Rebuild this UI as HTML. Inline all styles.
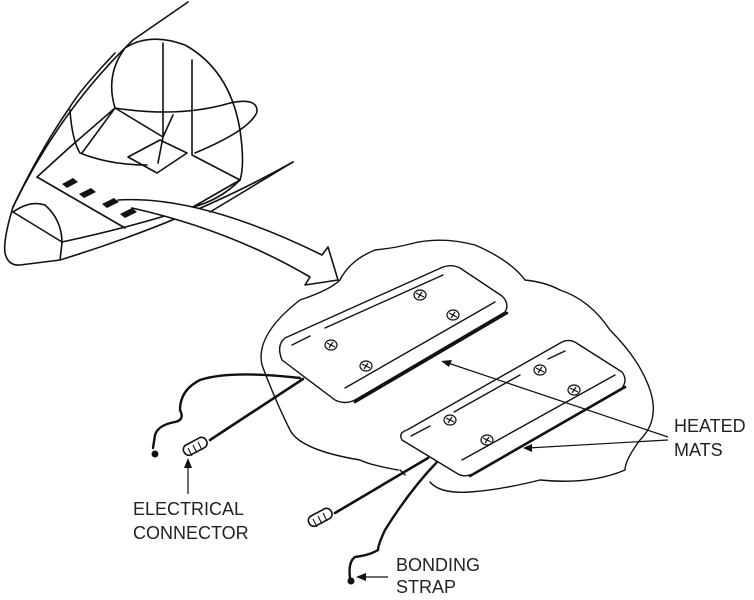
<!DOCTYPE html>
<html><head><meta charset="utf-8"><style>
html,body{margin:0;padding:0;background:#fff}
svg{display:block}
text{font-family:"Liberation Sans",sans-serif;font-size:18px;fill:#222}
</style></head><body>
<svg width="754" height="600" viewBox="0 0 754 600" xmlns="http://www.w3.org/2000/svg">
<g fill="none" stroke="#111" stroke-width="1.6" stroke-linejoin="round" stroke-linecap="round">
<!-- airplane nose -->
<path d="M188,2 L133,40 Q60,110 13,207 Q3,240 5,253 Q8,266 20,265 L60,260 Q190,220 293,162"/>
<path d="M115,53 Q80,90 70,107 Q40,150 13,207"/>
<path d="M13,212 Q30,200 45,205 Q62,220 62,243 L60,260"/>
<path d="M13,212 L62,242"/>
<path d="M62,242 Q140,225 193,207 Q220,200 240,180"/>
<path d="M37,177 L125,228"/>
<!-- canopy -->
<path d="M115,108 Q105,75 125,48 Q150,32 185,45 Q230,70 240,130 Q245,165 240,180"/>
<path d="M115,108 Q180,118 230,103 Q258,97 257,112 Q250,130 195,153"/>
<path d="M70,110 Q72,140 80,153 Q110,165 147,165"/>
<path d="M115,108 L82,153"/>
<path d="M70,147 L115,108 L163,137"/>
<path d="M163,43 L163,137 L158,163"/>
<path d="M192,60 L192,155 L240,180"/>
<path d="M173,115 L163,137"/>
<path d="M128,157 L157,173 L187,153 L160,140 Z"/>
<path d="M37,177 L70,147"/>
<path d="M193,207 L240,180"/>
<!-- arrow -->
<path d="M118,200 Q200,195 322,255 L328,247 L338,280 L305,285 L310,277 Q230,230 132,208" fill="#fff"/>
<path d="M210,212 L293,162" />
</g>
<g fill="#111">
<path d="M62,184 L73,178 L78,182 L67,188 Z"/>
<path d="M79,194 L91,188 L96,192 L84,198 Z"/>
<path d="M102,204 L114,198 L119,202 L107,208 Z"/>
<path d="M120,214 L132,208 L137,212 L125,218 Z"/>
</g>
<g fill="none" stroke="#111" stroke-width="1.4" stroke-linejoin="round" stroke-linecap="round">
<!-- blob -->
<path d="M300,300 Q330,290 340,280 Q350,260 375,250 Q395,248 410,244 Q440,236 475,245 Q510,260 525,280 Q545,282 560,290 Q590,300 610,330 Q640,360 650,390 Q660,420 640,440 Q625,460 625,470 Q590,485 540,480 Q500,490 470,492 Q440,494 430,482 M398,470 Q370,465 360,460 Q300,450 290,430 Q275,400 262,365 Q255,335 300,300"/>
<!-- mat1 -->
<path d="M285,338 L443,267 Q452,264 460,268 L502,296 Q510,304 505,312 L355,400 Q345,405 335,400 L282,360 Q276,345 285,338 Z"/>
<path d="M355,402 L507,313" stroke-width="2.6"/>
<path d="M292,345 L310,336 M325,328 L443,275"/>
<path d="M345,388 L495,302"/>
<!-- mat2 -->
<path d="M407,430 L562,342 Q570,338 578,344 L622,372 Q628,380 622,388 L475,473 Q465,478 458,474 L402,440 Q398,433 407,430 Z"/>
<path d="M470,476 L625,387" stroke-width="2.6"/>
<path d="M411,436 L430,426 M454,412 L520,375 M548,359 L565,351"/>
<path d="M462,460 L615,375"/>
</g>
<!-- screws -->
<g fill="none" stroke="#111" stroke-width="1.2">
<ellipse cx="420" cy="295" rx="6" ry="5"/><ellipse cx="453" cy="315" rx="6" ry="5"/>
<ellipse cx="331" cy="345" rx="6" ry="5"/><ellipse cx="366" cy="366" rx="6" ry="5"/>
<ellipse cx="540" cy="370" rx="6" ry="5"/><ellipse cx="574" cy="390" rx="6" ry="5"/>
<ellipse cx="450" cy="420" rx="6" ry="5"/><ellipse cx="487" cy="440" rx="6" ry="5"/>
<path d="M416,293l8,4M418,298l4,-6M449,313l8,4M451,318l4,-6M327,343l8,4M329,348l4,-6M362,364l8,4M364,369l4,-6M536,368l8,4M538,373l4,-6M570,388l8,4M572,393l4,-6M446,418l8,4M448,423l4,-6M483,438l8,4M485,443l4,-6"/>
</g>
<!-- wires -->
<g fill="none" stroke="#111" stroke-linecap="round">
<path d="M303,379 L210,440" stroke-width="2.6"/>
<path d="M300,378 Q230,370 200,380 Q180,390 180,410 Q185,420 175,422 Q158,425 155,435 L153,448" stroke-width="2.4"/>
<path d="M428,458 L335,513" stroke-width="2.6"/>
<path d="M437,462 Q410,490 385,530 Q378,545 378,550 Q370,555 355,557 Q348,562 350,578" stroke-width="2.4"/>
<path d="M400,470 L405,475" stroke-width="1.4"/>
</g>
<g fill="#fff" stroke="#111" stroke-width="1.6">
<rect x="183" y="441" width="25" height="11" rx="5" transform="rotate(-28 195 447)"/>
<rect x="308" y="512" width="25" height="11" rx="5" transform="rotate(-28 320 518)"/>
</g>
<g stroke="#111" stroke-width="1.1">
<path d="M188,448l4,8M193,445l4,8M198,442l4,8M313,519l4,8M318,516l4,8M323,513l4,8"/>
</g>
<circle cx="155" cy="454" r="3.5" fill="#111"/>
<circle cx="351" cy="581" r="3.5" fill="#111"/>
<!-- callouts -->
<g fill="none" stroke="#111" stroke-width="1.2">
<path d="M668,437 L445,362 M668,440 L528,448"/>
<path d="M188,494 L188,464"/>
<path d="M388,577 L360,577"/>
</g>
<g fill="#111">
<path d="M441,361 L452,360 L449,367 Z"/>
<path d="M523,448 L532,444 L532,452 Z"/>
<path d="M188,458 L184,468 L192,468 Z"/>
<path d="M356,577 L366,573 L366,581 Z"/>
</g>
<text x="674" y="432">HEATED</text>
<text x="674" y="456">MATS</text>
<text x="133" y="515">ELECTRICAL</text>
<text x="133" y="539">CONNECTOR</text>
<text x="396" y="571">BONDING</text>
<text x="396" y="593">STRAP</text>
</svg>
</body></html>
